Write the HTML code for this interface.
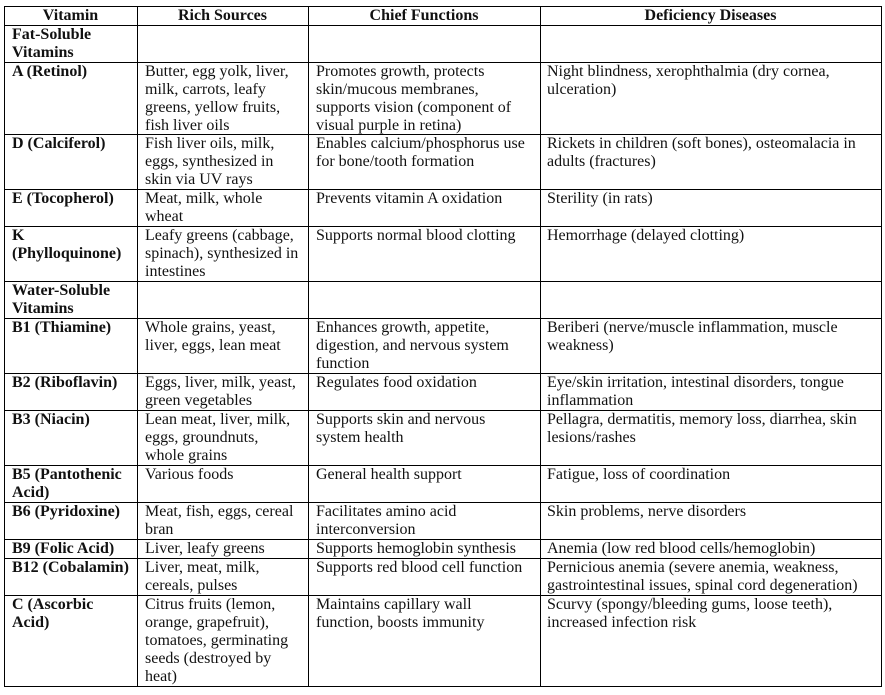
<!DOCTYPE html>
<html><head><meta charset="utf-8"><style>
body{margin:0;width:885px;height:695px;background:#fff;position:relative;font-family:"Liberation Serif",serif;font-size:16px;color:#111;overflow:hidden}
.h{position:absolute;left:4px;width:878px;height:1px;background:#000}
.v{position:absolute;top:6px;height:681px;width:1px;background:#000}
.c{position:absolute;line-height:18px;white-space:nowrap}
.b{font-weight:bold}
.hd{font-weight:bold;text-align:center}
</style></head><body>
<div class="h" style="top:6px"></div><div class="h" style="top:25px"></div><div class="h" style="top:62px"></div><div class="h" style="top:134px"></div><div class="h" style="top:189px"></div><div class="h" style="top:226px"></div><div class="h" style="top:281px"></div><div class="h" style="top:318px"></div><div class="h" style="top:373px"></div><div class="h" style="top:410px"></div><div class="h" style="top:465px"></div><div class="h" style="top:502px"></div><div class="h" style="top:539px"></div><div class="h" style="top:558px"></div><div class="h" style="top:595px"></div><div class="h" style="top:686px"></div>
<div class="v" style="left:4px"></div><div class="v" style="left:137px"></div><div class="v" style="left:308px"></div><div class="v" style="left:540px"></div><div class="v" style="left:881px"></div>

<div class="c hd" style="top:7px;left:4px;width:133px">Vitamin</div>
<div class="c hd" style="top:7px;left:137px;width:171px">Rich Sources</div>
<div class="c hd" style="top:7px;left:308px;width:232px">Chief Functions</div>
<div class="c hd" style="top:7px;left:540px;width:341px">Deficiency Diseases</div>

<div class="c b" style="top:26px;left:12px">Fat-Soluble<br>Vitamins</div>

<div class="c b" style="top:63px;left:12px">A (Retinol)</div>
<div class="c" style="top:63px;left:145px">Butter, egg yolk, liver,<br>milk, carrots, leafy<br>greens, yellow fruits,<br>fish liver oils</div>
<div class="c" style="top:63px;left:316px">Promotes growth, protects<br>skin/mucous membranes,<br>supports vision (component of<br>visual purple in retina)</div>
<div class="c" style="top:63px;left:547px">Night blindness, xerophthalmia (dry cornea,<br>ulceration)</div>

<div class="c b" style="top:135px;left:12px">D (Calciferol)</div>
<div class="c" style="top:135px;left:145px">Fish liver oils, milk,<br>eggs, synthesized in<br>skin via UV rays</div>
<div class="c" style="top:135px;left:316px">Enables calcium/phosphorus use<br>for bone/tooth formation</div>
<div class="c" style="top:135px;left:547px">Rickets in children (soft bones), osteomalacia in<br>adults (fractures)</div>

<div class="c b" style="top:190px;left:12px">E (Tocopherol)</div>
<div class="c" style="top:190px;left:145px">Meat, milk, whole<br>wheat</div>
<div class="c" style="top:190px;left:316px">Prevents vitamin A oxidation</div>
<div class="c" style="top:190px;left:547px">Sterility (in rats)</div>

<div class="c b" style="top:227px;left:12px">K<br>(Phylloquinone)</div>
<div class="c" style="top:227px;left:145px">Leafy greens (cabbage,<br>spinach), synthesized in<br>intestines</div>
<div class="c" style="top:227px;left:316px">Supports normal blood clotting</div>
<div class="c" style="top:227px;left:547px">Hemorrhage (delayed clotting)</div>

<div class="c b" style="top:282px;left:12px">Water-Soluble<br>Vitamins</div>

<div class="c b" style="top:319px;left:12px">B1 (Thiamine)</div>
<div class="c" style="top:319px;left:145px">Whole grains, yeast,<br>liver, eggs, lean meat</div>
<div class="c" style="top:319px;left:316px">Enhances growth, appetite,<br>digestion, and nervous system<br>function</div>
<div class="c" style="top:319px;left:547px">Beriberi (nerve/muscle inflammation, muscle<br>weakness)</div>

<div class="c b" style="top:374px;left:12px">B2 (Riboflavin)</div>
<div class="c" style="top:374px;left:145px">Eggs, liver, milk, yeast,<br>green vegetables</div>
<div class="c" style="top:374px;left:316px">Regulates food oxidation</div>
<div class="c" style="top:374px;left:547px">Eye/skin irritation, intestinal disorders, tongue<br>inflammation</div>

<div class="c b" style="top:411px;left:12px">B3 (Niacin)</div>
<div class="c" style="top:411px;left:145px">Lean meat, liver, milk,<br>eggs, groundnuts,<br>whole grains</div>
<div class="c" style="top:411px;left:316px">Supports skin and nervous<br>system health</div>
<div class="c" style="top:411px;left:547px">Pellagra, dermatitis, memory loss, diarrhea, skin<br>lesions/rashes</div>

<div class="c b" style="top:466px;left:12px">B5 (Pantothenic<br>Acid)</div>
<div class="c" style="top:466px;left:145px">Various foods</div>
<div class="c" style="top:466px;left:316px">General health support</div>
<div class="c" style="top:466px;left:547px">Fatigue, loss of coordination</div>

<div class="c b" style="top:503px;left:12px">B6 (Pyridoxine)</div>
<div class="c" style="top:503px;left:145px">Meat, fish, eggs, cereal<br>bran</div>
<div class="c" style="top:503px;left:316px">Facilitates amino acid<br>interconversion</div>
<div class="c" style="top:503px;left:547px">Skin problems, nerve disorders</div>

<div class="c b" style="top:540px;left:12px">B9 (Folic Acid)</div>
<div class="c" style="top:540px;left:145px">Liver, leafy greens</div>
<div class="c" style="top:540px;left:316px">Supports hemoglobin synthesis</div>
<div class="c" style="top:540px;left:547px">Anemia (low red blood cells/hemoglobin)</div>

<div class="c b" style="top:559px;left:12px">B12 (Cobalamin)</div>
<div class="c" style="top:559px;left:145px">Liver, meat, milk,<br>cereals, pulses</div>
<div class="c" style="top:559px;left:316px">Supports red blood cell function</div>
<div class="c" style="top:559px;left:547px">Pernicious anemia (severe anemia, weakness,<br>gastrointestinal issues, spinal cord degeneration)</div>

<div class="c b" style="top:596px;left:12px">C (Ascorbic<br>Acid)</div>
<div class="c" style="top:596px;left:145px">Citrus fruits (lemon,<br>orange, grapefruit),<br>tomatoes, germinating<br>seeds (destroyed by<br>heat)</div>
<div class="c" style="top:596px;left:316px">Maintains capillary wall<br>function, boosts immunity</div>
<div class="c" style="top:596px;left:547px">Scurvy (spongy/bleeding gums, loose teeth),<br>increased infection risk</div>
</body></html>
